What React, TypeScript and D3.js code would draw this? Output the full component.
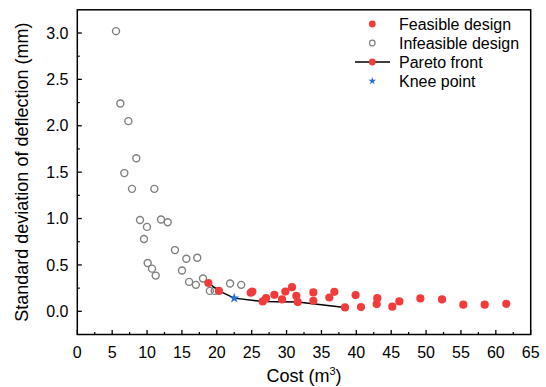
import React from "react";
import * as d3 from "d3";

const infeasibleX = [5.55, 6.17, 7.32, 8.46, 6.74, 7.84, 11.04, 8.99, 9.99, 9.56, 12.0, 12.96, 10.09, 10.71, 11.24, 14.0, 15.63, 17.2, 15.01, 16.03, 17.0, 18.02, 19.0, 19.7, 21.9, 23.5];
const infeasibleY = [3.02, 2.24, 2.05, 1.65, 1.49, 1.32, 1.32, 0.985, 0.91, 0.78, 0.99, 0.96, 0.52, 0.46, 0.385, 0.66, 0.567, 0.578, 0.44, 0.317, 0.285, 0.353, 0.22, 0.22, 0.3, 0.285];

const feasibleX = [24.86, 25.1, 27.06, 28.25, 29.35, 29.83, 30.78, 31.4, 33.84, 33.84, 36.13, 36.85, 39.9, 40.67, 43.0, 42.92, 45.16, 46.17, 49.18, 52.29, 55.34, 58.4, 61.5];
const feasibleY = [0.2, 0.213, 0.142, 0.178, 0.128, 0.213, 0.26, 0.167, 0.203, 0.114, 0.149, 0.21, 0.175, 0.046, 0.142, 0.078, 0.05, 0.106, 0.139, 0.128, 0.071, 0.071, 0.081];

const paretoX = [18.79, 20.3, 22.5, 26.58, 31.6, 38.38];
const paretoY = [0.305, 0.22, 0.142, 0.106, 0.1, 0.042];
const kneeIndex = 2;

const xTicks = [0, 5, 10, 15, 20, 25, 30, 35, 40, 45, 50, 55, 60, 65];
const xMinor = [2.5, 7.5, 12.5, 17.5, 22.5, 27.5, 32.5, 37.5, 42.5, 47.5, 52.5, 57.5, 62.5];
const yTicks = [0, 0.5, 1.0, 1.5, 2.0, 2.5, 3.0];
const yMinor = [0.25, 0.75, 1.25, 1.75, 2.25, 2.75];

const legendLabels = ["Feasible design", "Infeasible design", "Pareto front", "Knee point"];

const RED = "#F23C3C";
const GRAY = "#7f7f7f";
const BLUE = "#2a6fd8";
const FONT = "'Liberation Sans', Arial, sans-serif";

export default function App() {
  const left = 77.3, right = 530.7, top = 9.8, bottom = 334.5;
  const x = d3.scaleLinear().domain([0, 65]).range([left, right]);
  const y = d3.scaleLinear().domain([-0.25, 3.25]).range([bottom, top]);
  const line = d3.line<number>().x((_, i) => x(paretoX[i])).y((_, i) => y(paretoY[i]));
  const star = d3.symbol().type(d3.symbolStar).size(34)();
  const starSmall = d3.symbol().type(d3.symbolStar).size(18)();

  const legY = [24, 43, 62, 81];
  const legMX = 372.3;
  const legTX = 399;

  return (
    <svg width={546} height={387} style={{ position: "absolute", left: 0, top: 0, background: "#fff" }} fontFamily={FONT}>
      <rect x={0} y={0} width={546} height={387} fill="#fff" />
      {xTicks.map((t) => (
        <line key={"xt" + t} x1={x(t)} x2={x(t)} y1={bottom} y2={bottom - 4.5} stroke="#000" strokeWidth={1.3} />
      ))}
      {xMinor.map((t) => (
        <line key={"xm" + t} x1={x(t)} x2={x(t)} y1={bottom} y2={bottom - 2.5} stroke="#000" strokeWidth={1.2} />
      ))}
      {yTicks.map((t) => (
        <line key={"yt" + t} x1={left} x2={left + 4.5} y1={y(t)} y2={y(t)} stroke="#000" strokeWidth={1.3} />
      ))}
      {yMinor.map((t) => (
        <line key={"ym" + t} x1={left} x2={left + 2.5} y1={y(t)} y2={y(t)} stroke="#000" strokeWidth={1.2} />
      ))}
      {xTicks.map((t) => (
        <text key={"xl" + t} x={x(t)} y={358} textAnchor="middle" fontSize={16} fill="#000">{t}</text>
      ))}
      {yTicks.map((t) => (
        <text key={"yl" + t} x={68.5} y={y(t)} dy="0.35em" textAnchor="end" fontSize={16} fill="#000">{t.toFixed(1)}</text>
      ))}
      <text x={(left + right) / 2} y={382} textAnchor="middle" fontSize={18} fill="#000">
        Cost (m<tspan dy={-7} fontSize={11}>3</tspan><tspan dy={7}>)</tspan>
      </text>
      <text transform={`translate(22,${(top + bottom) / 2}) rotate(-90)`} dy="0.35em" textAnchor="middle" fontSize={18} fill="#000">
        Standard deviation of deflection (mm)
      </text>

      {infeasibleX.map((v, i) => (
        <circle key={"inf" + i} cx={x(v)} cy={y(infeasibleY[i])} r={3.5} fill="none" stroke={GRAY} strokeWidth={1.4} />
      ))}
      <path d={line(paretoX) || ""} fill="none" stroke="#000" strokeWidth={1.5} />
      {feasibleX.map((v, i) => (
        <circle key={"fe" + i} cx={x(v)} cy={y(feasibleY[i])} r={4.1} fill={RED} />
      ))}
      {paretoX.map((v, i) =>
        i === kneeIndex ? null : <circle key={"pa" + i} cx={x(v)} cy={y(paretoY[i])} r={4.1} fill={RED} />
      )}
      <path d={star || ""} transform={`translate(${x(paretoX[kneeIndex])},${y(paretoY[kneeIndex])})`} fill={BLUE} />

      <circle cx={legMX} cy={legY[0]} r={3.4} fill={RED} />
      <circle cx={legMX} cy={legY[1]} r={2.8} fill="none" stroke={GRAY} strokeWidth={1.2} />
      <line x1={355} x2={390} y1={legY[2]} y2={legY[2]} stroke="#000" strokeWidth={1.5} />
      <circle cx={legMX} cy={legY[2]} r={3.4} fill={RED} />
      <path d={starSmall || ""} transform={`translate(${legMX},${legY[3]})`} fill={BLUE} />
      {legendLabels.map((l, i) => (
        <text key={l} x={legTX} y={legY[i]} dy="0.35em" fontSize={16} fill="#000">{l}</text>
      ))}

      <rect x={left} y={top} width={right - left} height={bottom - top} fill="none" stroke="#000" strokeWidth={1.5} />
    </svg>
  );
}
